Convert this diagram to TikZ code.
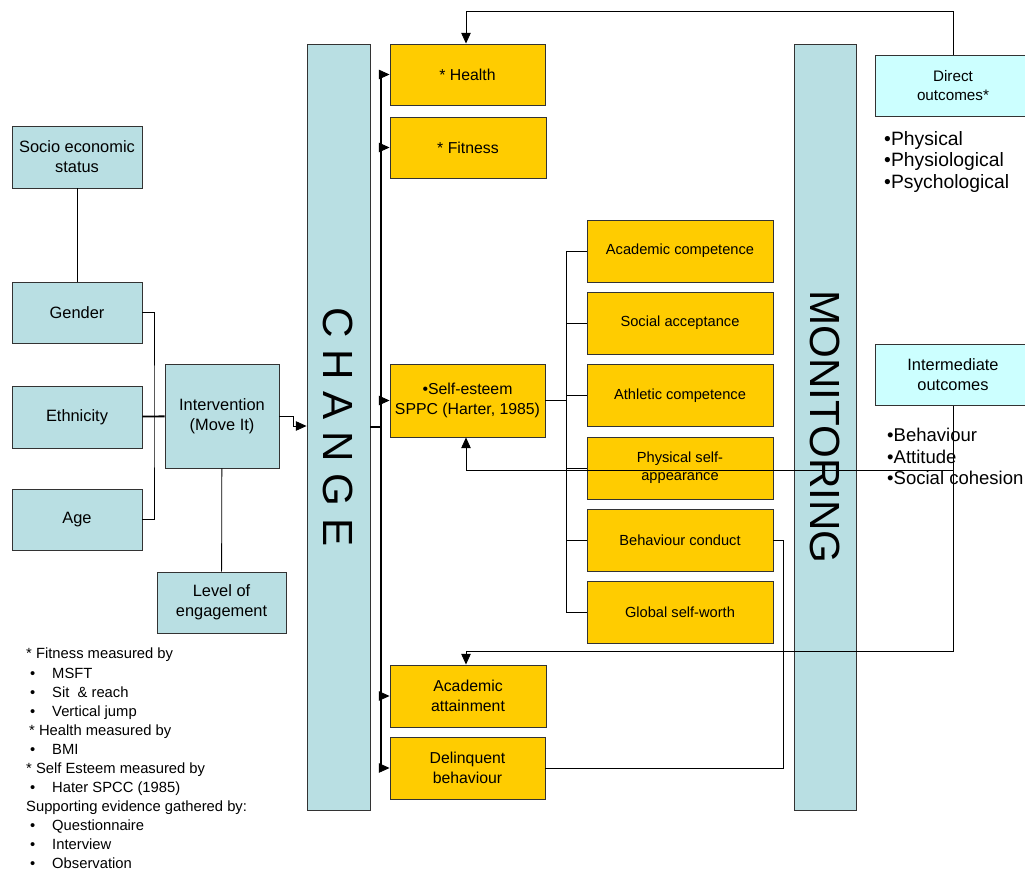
\documentclass[tikz,border=0pt]{standalone}
\usepackage{fontspec}
\setmainfont{Liberation Sans}
\usetikzlibrary{arrows.meta,calc}
\definecolor{panelblue}{RGB}{185,223,227}
\definecolor{resultorange}{RGB}{255,204,0}
\definecolor{outcomecyan}{RGB}{204,255,255}
\def\notebullet#1{\makebox[0.78cm][l]{\hspace{0.12cm}•}#1}

\begin{document}
\begin{tikzpicture}[x=0.03cm, y=-0.03cm,
	box/.style={draw=black!80, line width=0.8pt, fill=panelblue, align=center, inner sep=2pt, font=\fontsize{14}{17}\selectfont},
	result/.style={box, fill=resultorange, font=\fontsize{13.5}{17.5}\selectfont},
	subresult/.style={result, minimum width=5.58cm, minimum height=1.86cm, font=\fontsize{12.5}{15}\selectfont},
	outcome/.style={box, fill=outcomecyan, minimum width=4.68cm, minimum height=1.83cm},
	bar/.style={draw=black!80, line width=0.8pt, fill=panelblue, minimum height=22.98cm},
	barlabel/.style={rotate=-90, font=\fontsize{36}{40}\selectfont},
	link/.style={line width=0.7pt},
	arr/.style={link, -{Triangle[length=9pt, width=8pt]}}]
			%%%%% START %%%%%
			
			\useasboundingbox (0,0) rectangle (1025,875);
			
			\node[box, minimum width=3.9cm, minimum height=1.86cm] (socio) at (77,157) {Socio economic\\status};
			\node[box, minimum width=3.9cm, minimum height=1.83cm] (gender) at (77,312.5) {Gender};
			\node[box, minimum width=3.9cm, minimum height=1.86cm] (ethnicity) at (77,417) {Ethnicity};
			\node[box, minimum width=3.9cm, minimum height=1.83cm] (age) at (77,519.5) {Age};
			\node[box, minimum width=3.42cm, minimum height=3.12cm] (interv) at (222,416) {Intervention\\(Move It)};
			\node[box, minimum width=3.87cm, minimum height=1.83cm] (level) at (221.5,602.5) {Level of\\engagement};
			
			\node[bar, minimum width=1.89cm] (change) at (338.5,427) {};
			\node[barlabel] (changetxt) at (change) {C H A N G E};
			\node[bar, minimum width=1.86cm] (monitor) at (825,427) {};
			\node[barlabel] (monitortxt) at (monitor) {MONITORING};
			
			\node[result, minimum width=4.65cm, minimum height=1.83cm] (health) at (467.5,74.5) {* Health};
			\node[result, minimum width=4.68cm, minimum height=1.83cm] (fitness) at (468,147.5) {* Fitness};
			\node[result, minimum width=4.65cm, minimum height=2.19cm] (selfest) at (467.5,400.5) {•Self-esteem\\SPPC (Harter, 1985)};
			\node[result, minimum width=4.68cm, minimum height=1.86cm] (acadatt) at (468,696) {Academic\\attainment};
			\node[result, minimum width=4.65cm, minimum height=1.86cm] (delinq) at (467.5,768) {Delinquent\\behaviour};
			
			\node[subresult] (acadcomp) at (680,251) {Academic competence};
			\node[subresult] (social) at (680,323) {Social acceptance};
			\node[subresult] (athletic) at (680,395.5) {Athletic competence};
			\node[subresult] (physical) at (680,468) {Physical self-\\appearance};
			\node[subresult] (behaviour) at (680,540) {Behaviour conduct};
			\node[subresult] (global) at (680,612.5) {Global self-worth};
			
			\node[outcome, font=\fontsize{13}{16}\selectfont] (direct) at (953,85.5) {Direct\\outcomes*};
			\node[outcome] (inter) at (953,375) {Intermediate\\outcomes};
			\node[anchor=north west, inner sep=0pt, align=left, font=\fontsize{16.5}{18.3}\selectfont] (directlist) at (884,131) {•Physical\\•Physiological\\•Psychological};
			\node[anchor=north west, inner sep=0pt, align=left, font=\fontsize{15.8}{18.3}\selectfont] (interlist) at (887,428) {•Behaviour\\•Attitude\\•Social cohesion};
			
			\node[anchor=north west, inner sep=0pt, align=left, font=\fontsize{12.6}{16.3}\selectfont] (notes) at (26,648) {%
				* Fitness measured by\\
				\notebullet{MSFT}\\
				\notebullet{Sit \ \& reach}\\
				\notebullet{Vertical jump}\\
				\hspace{0.09cm}* Health measured by\\
				\notebullet{BMI}\\
				* Self Esteem measured by\\
				\notebullet{Hater SPCC (1985)}\\
				Supporting evidence gathered by:\\
				\notebullet{Questionnaire}\\
				\notebullet{Interview}\\
				\notebullet{Observation}};
			
			% left side
			\coordinate (lj) at (154,417);
			\coordinate (ci) at (293,426);
			\draw[link] (socio) -- (gender);
			\draw[link] (gender.east) -| (lj) |- (age.east);
			\draw[line width=1.6pt] (ethnicity) -- (interv);
			\draw[link] (interv) -- (level);
			\draw[arr] (interv.east) -| (ci) -- (ci -| change.west);
			
			% change trunk
			\coordinate (tr) at (381,427);
			\draw[line width=1.2pt] (change.east |- tr) -- (tr);
			\draw[line width=1.2pt] (tr |- health.west) -- (tr |- delinq.west);
			\foreach \n in {health,fitness,selfest,acadatt,delinq}
				\draw[arr] (tr |- \n.west) -- (\n.west);
			
			% self-esteem branches
			\coordinate (sb) at (566,400.5);
			\draw[line width=1.2pt] (selfest.east) -- (sb);
			\draw[link] (sb |- acadcomp.west) -- (sb |- global.west);
			\foreach \n in {acadcomp,social,athletic,physical,behaviour,global}
				\draw[link] (sb |- \n.west) -- (\n.west);
			
			% feedback from monitoring
			\coordinate (ft) at (466,11);
			\coordinate (fa) at (466,470);
			\coordinate (fb) at (466,651);
			\coordinate (bd) at (783,540);
			\draw[arr] (direct.north) |- (ft) -- (ft |- health.north);
			\draw[arr] (inter.south) |- (fa) -- (fa |- selfest.south);
			\draw[arr] (inter.south) |- (fb) -- (fb |- acadatt.north);
			\draw[link] (behaviour.east) -- (bd) |- (delinq.east);
			
			%%%%% END %%%%%
\end{tikzpicture}
\end{document}
